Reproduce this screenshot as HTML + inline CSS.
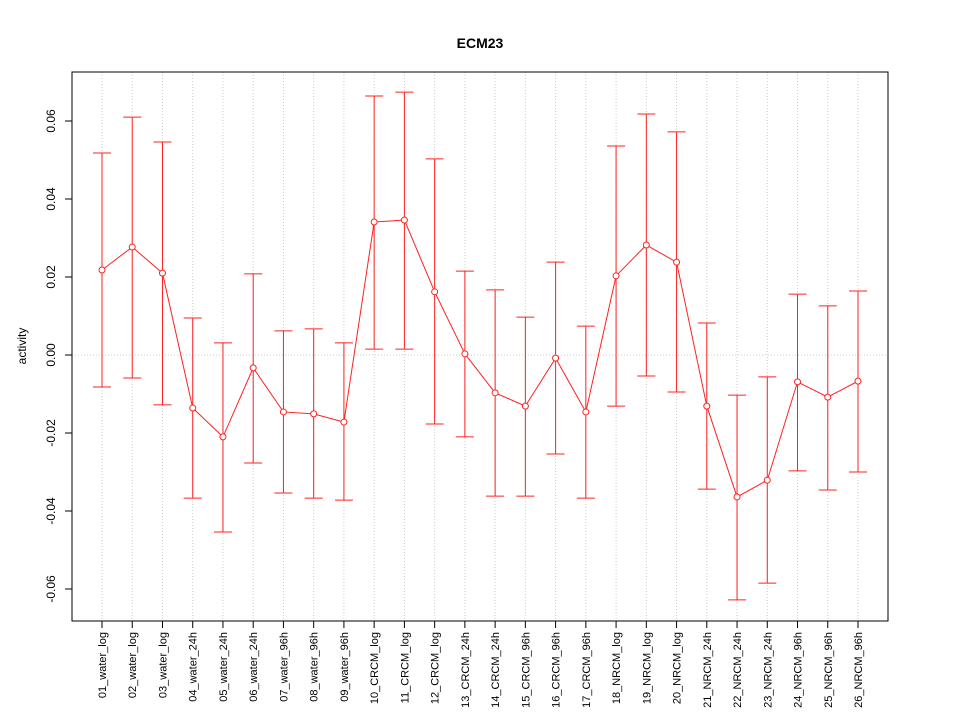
<!DOCTYPE html>
<html><head><meta charset="utf-8"><style>
body{margin:0;background:#fff}
svg text{font-family:"Liberation Sans",Arial,sans-serif}
</style></head><body>
<svg id="chart" width="960" height="720" viewBox="0 0 960 720" xmlns="http://www.w3.org/2000/svg">
<rect width="960" height="720" fill="#fff"/>
<text x="480" y="48" text-anchor="middle" font-size="14" font-weight="bold">ECM23</text>
<text transform="translate(26,346) rotate(-90)" text-anchor="middle" font-size="12">activity</text>
<g id="grid"></g><g id="axes"></g><g id="marks"></g>
<rect x="72" y="72" width="816" height="549" fill="none" stroke="#000" stroke-width="1"/>
</svg>
<script>
const categories=["01_water_log","02_water_log","03_water_log","04_water_24h","05_water_24h","06_water_24h","07_water_96h","08_water_96h","09_water_96h","10_CRCM_log","11_CRCM_log","12_CRCM_log","13_CRCM_24h","14_CRCM_24h","15_CRCM_96h","16_CRCM_96h","17_CRCM_96h","18_NRCM_log","19_NRCM_log","20_NRCM_log","21_NRCM_24h","22_NRCM_24h","23_NRCM_24h","24_NRCM_96h","25_NRCM_96h","26_NRCM_96h"];
const values=[0.0218,0.0277,0.021,-0.0136,-0.021,-0.0033,-0.0146,-0.0151,-0.0172,0.0341,0.0346,0.0162,0.0003,-0.0097,-0.0131,-0.0008,-0.0146,0.0203,0.0282,0.0238,-0.0131,-0.0364,-0.0321,-0.0069,-0.0108,-0.0067];
const upper=[0.0518,0.061,0.0546,0.0095,0.0031,0.0208,0.0062,0.0067,0.0031,0.0664,0.0674,0.0503,0.0215,0.0167,0.0097,0.0238,0.0074,0.0536,0.0618,0.0572,0.0082,-0.0103,-0.0056,0.0156,0.0126,0.0164];
const lower=[-0.0082,-0.0059,-0.0128,-0.0367,-0.0454,-0.0277,-0.0354,-0.0367,-0.0372,0.0015,0.0015,-0.0177,-0.021,-0.0362,-0.0362,-0.0254,-0.0367,-0.0131,-0.0054,-0.0095,-0.0344,-0.0628,-0.0585,-0.0297,-0.0346,-0.030];
const yTicks=[-0.06,-0.04,-0.02,0.00,0.02,0.04,0.06];
const yTickLabels=["-0.06","-0.04","-0.02","0.00","0.02","0.04","0.06"];

const NS="http://www.w3.org/2000/svg";
function xs(i){return 102+i*(858-102)/(categories.length-1);}
function ys(v){return 355-v*3900;}
function mk(tag,attrs,parent){const e=document.createElementNS(NS,tag);for(const k in attrs)e.setAttribute(k,attrs[k]);parent.appendChild(e);return e;}
const grid=document.getElementById('grid'),axes=document.getElementById('axes'),marks=document.getElementById('marks');
categories.forEach((c,i)=>{
  const g=mk('line',{x1:xs(i),x2:xs(i),y1:72,y2:621,stroke:'#ccc','stroke-dasharray':'1,2'},grid);
  
  
  const t=mk('line',{x1:xs(i),x2:xs(i),y1:621,y2:628,stroke:'#000'},axes);
  
  
  const l=mk('text',{transform:`translate(${xs(i)+4},632) rotate(-90)`,'text-anchor':'end','font-size':'11'},axes);
  l.textContent=c;
  
  
});
const z=mk('line',{x1:72,x2:888,y1:ys(0),y2:ys(0),stroke:'#ccc','stroke-dasharray':'1,2'},grid);


yTicks.forEach((v,i)=>{
  const t=mk('line',{x1:65,x2:72,y1:ys(v),y2:ys(v),stroke:'#000'},axes);
  
  
  const l=mk('text',{transform:`translate(55,${ys(v)}) rotate(-90)`,'text-anchor':'middle','font-size':'12'},axes);
  l.textContent=yTickLabels[i];
  
  
});
const ax=mk('line',{x1:72,x2:72,y1:ys(yTicks[0]),y2:ys(yTicks[yTicks.length-1]),stroke:'#000'},axes);


const red='#ff2020';
categories.forEach((c,i)=>{
  const x=xs(i);
  const e=mk('line',{x1:x,x2:x,y1:ys(upper[i]),y2:ys(lower[i]),stroke:red},marks);
  
  
  [upper[i],lower[i]].forEach(v=>{
    const cp=mk('line',{x1:x-9,x2:x+9,y1:ys(v),y2:ys(v),stroke:red},marks);
    
    
  });
});
const pl=mk('polyline',{points:values.map((v,i)=>xs(i)+','+ys(v)).join(' '),fill:'none',stroke:red},marks);


values.forEach((v,i)=>{
  const p=mk('circle',{cx:xs(i),cy:ys(v),r:3,fill:'#fff',stroke:red},marks);
  
  
});
</script>
</body></html>
